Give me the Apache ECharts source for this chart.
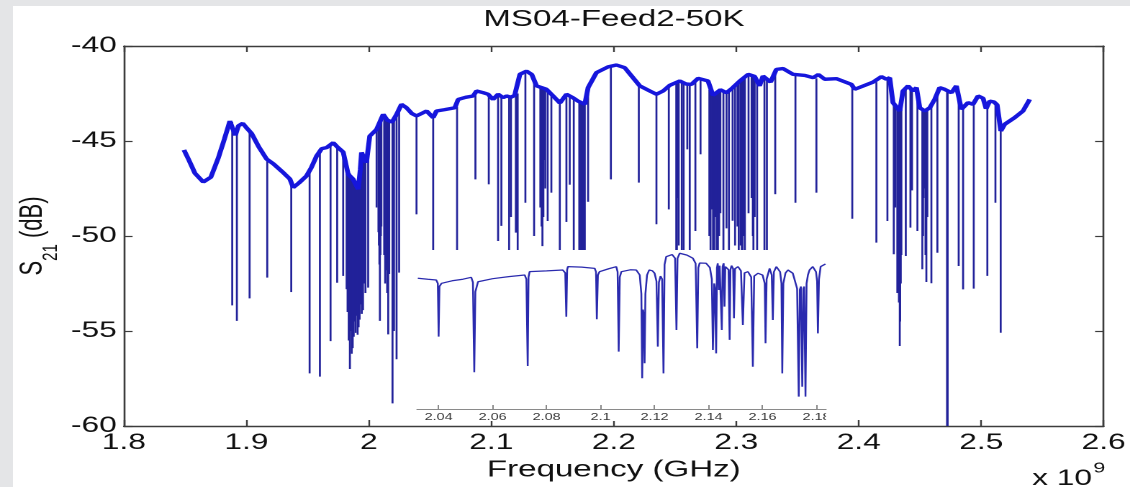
<!DOCTYPE html>
<html>
<head>
<meta charset="utf-8">
<title>MS04-Feed2-50K</title>
<script src="https://cdn.jsdelivr.net/npm/echarts@6/dist/echarts.min.js"></script>
<style>
  html, body { margin: 0; padding: 0; background: #e4e5e7; }
  #frame { position: relative; width: 1130px; height: 487px; overflow: hidden; background: #e4e5e7; }
  #sheet { position: absolute; left: 13px; top: 6px; right: 0; bottom: 0; background: #ffffff; }
  /* the exported figure is widened horizontally; the chart is laid out at its
     native width and stretched to the figure's proportions */
  #chart { position: absolute; left: 0; top: 0; width: 785px; height: 487px;
           transform: scaleX(1.4395); transform-origin: 0 0; }
</style>
</head>
<body>
<div id="frame"><div id="sheet"></div><div id="chart"></div></div>
<script>
// ---- data: S21 transmission of feedline 2 at 50 K (frequency in GHz, level in dB) ----

// smooth transmission level between resonances
const baseline = [
  [1.849, -45.47], [1.853, -46.0], [1.858, -46.7], [1.8648, -47.16], [1.871, -46.9],
  [1.877, -45.9], [1.882, -44.9], [1.8865, -43.95], [1.8885, -44.3], [1.891, -44.7],
  [1.8935, -44.2], [1.897, -44.07], [1.900, -44.3], [1.9042, -44.6], [1.910, -45.3],
  [1.9165, -45.95], [1.922, -46.2], [1.929, -46.6], [1.9355, -47.0], [1.9382, -47.45],
  [1.943, -47.2], [1.949, -46.84], [1.953, -46.4], [1.9573, -45.79], [1.9615, -45.4],
  [1.9654, -45.35], [1.9709, -45.09], [1.974, -45.3], [1.979, -45.58], [1.981, -45.5],
  [1.9831, -46.75], [1.987, -47.0], [1.9913, -47.54], [1.993, -46.5], [1.994, -45.6],
  [1.996, -45.9], [1.998, -46.14], [2.0007, -44.74], [2.0063, -44.39], [2.0117, -43.6],
  [2.015, -43.9], [2.019, -44.0], [2.0226, -43.6], [2.0266, -43.07], [2.0307, -43.25],
  [2.035, -43.55], [2.0389, -43.68], [2.043, -43.55], [2.0471, -43.42], [2.0525, -43.77],
  [2.0552, -43.42], [2.062, -43.35], [2.0702, -43.25], [2.0729, -42.81], [2.079, -42.7],
  [2.0851, -42.63], [2.0879, -42.37], [2.093, -42.45], [2.0974, -42.54], [2.1014, -42.81],
  [2.1055, -42.54], [2.1096, -42.72], [2.1124, -42.63], [2.116, -42.7], [2.119, -42.6],
  [2.1233, -41.49], [2.1287, -41.32], [2.133, -41.5], [2.1369, -42.1], [2.145, -42.28],
  [2.1504, -42.63], [2.156, -43.0], [2.1613, -42.54], [2.166, -42.7], [2.1708, -42.9],
  [2.1763, -43.07], [2.179, -42.19], [2.1858, -41.4], [2.1953, -41.1], [2.2021, -41.0],
  [2.2089, -41.14], [2.2157, -41.67], [2.2212, -42.1], [2.2294, -42.37], [2.2348, -42.54],
  [2.2402, -42.37], [2.2457, -42.07], [2.2539, -41.84], [2.259, -42.0], [2.2634, -42.02],
  [2.2688, -41.7], [2.2769, -41.84], [2.281, -42.6], [2.287, -42.3], [2.292, -42.46],
  [2.297, -42.2], [2.3029, -41.84], [2.3097, -41.49], [2.315, -41.6], [2.319, -42.1],
  [2.3218, -41.58], [2.328, -41.9], [2.3327, -41.23], [2.3382, -41.19], [2.3463, -41.49],
  [2.356, -41.55], [2.3627, -41.67], [2.367, -41.5], [2.3722, -41.75], [2.3817, -41.72],
  [2.394, -42.02], [2.3967, -42.28], [2.4117, -41.9], [2.4185, -41.61], [2.4226, -41.75],
  [2.4253, -41.67], [2.4279, -42.98], [2.4335, -43.42], [2.4361, -42.37], [2.4403, -42.1],
  [2.4443, -42.37], [2.4471, -42.19], [2.4498, -43.25], [2.4539, -43.42], [2.458, -43.25],
  [2.462, -42.81], [2.4661, -42.19], [2.4702, -42.28], [2.4757, -42.46], [2.4797, -42.1],
  [2.4838, -43.33], [2.4892, -42.98], [2.4933, -43.07], [2.4974, -42.63], [2.5015, -42.75],
  [2.504, -43.3], [2.5069, -42.9], [2.5105, -42.95], [2.513, -43.1], [2.516, -44.47],
  [2.5192, -44.12], [2.5273, -43.77], [2.5341, -43.42], [2.5396, -42.81]
];

// resonance dips: [frequency, level at the top of the dip, level at its bottom]
const dips = [
  [1.8884, -44.0, -53.65], [1.8922, -44.4, -54.47], [1.9026, -44.5, -53.28],
  [1.9170, -45.9, -52.19], [1.9366, -47.1, -52.95], [1.9516, -46.6, -57.23],
  [1.9600, -45.6, -57.40], [1.9687, -45.2, -55.53], [1.9741, -45.2, -52.46],
  [1.9790, -45.5, -52.10], [1.9818, -46.2, -52.80], [1.9826, -46.5, -54.00],
  [1.9835, -46.6, -55.50], [1.9845, -46.7, -57.00], [1.9852, -46.8, -55.00],
  [1.9860, -46.9, -56.20], [1.9868, -47.0, -55.90], [1.9876, -47.1, -55.30],
  [1.9884, -47.2, -54.50], [1.9892, -47.3, -55.10], [1.9900, -47.4, -54.20],
  [1.9908, -47.5, -55.20], [1.9916, -47.5, -54.80], [1.9924, -47.0, -54.40],
  [1.9932, -46.3, -53.60], [1.9942, -45.7, -54.10], [1.9952, -45.8, -53.90],
  [1.9962, -46.0, -52.50], [1.9972, -46.1, -53.00], [1.9994, -45.0, -52.72],
  [2.0063, -44.4, -48.50], [2.0078, -44.2, -49.80], [2.0082, -44.1, -50.50],
  [2.0086, -44.0, -51.50], [2.0090, -43.9, -54.47], [2.0094, -43.9, -51.00],
  [2.0098, -43.8, -50.00], [2.0102, -43.8, -49.50], [2.0125, -43.7, -51.00],
  [2.0133, -43.8, -52.50], [2.0137, -43.8, -51.40], [2.0141, -43.9, -51.80],
  [2.0145, -43.9, -51.60], [2.0149, -44.0, -53.00], [2.0153, -44.0, -51.50],
  [2.0158, -44.0, -55.18], [2.0162, -44.0, -51.40], [2.0166, -44.0, -52.00],
  [2.0193, -44.0, -58.81], [2.0205, -43.8, -55.00], [2.0226, -43.6, -56.49],
  [2.0247, -43.2, -51.93], [2.0389, -43.68, -48.86], [2.0525, -43.77, -55.00],
  [2.0720, -43.2, -55.00], [2.0870, -42.5, -47.02], [2.0979, -42.55, -47.28],
  [2.1055, -42.6, -50.26], [2.1082, -42.7, -49.47], [2.1145, -42.6, -54.00],
  [2.1160, -42.6, -49.00], [2.1200, -42.6, -49.82], [2.1215, -42.5, -54.00],
  [2.1278, -41.3, -48.25], [2.1349, -41.8, -50.00], [2.1400, -42.2, -48.50],
  [2.1405, -42.2, -45.50], [2.1410, -42.2, -49.50], [2.1417, -42.3, -50.53],
  [2.1421, -42.3, -46.20], [2.1425, -42.3, -49.00], [2.1432, -42.3, -46.00],
  [2.1440, -42.3, -47.50], [2.1460, -42.4, -49.21], [2.1490, -42.5, -47.72],
  [2.1559, -42.8, -54.00], [2.1613, -42.6, -49.26], [2.1640, -42.6, -47.30],
  [2.1673, -42.8, -54.00], [2.1718, -42.9, -54.00], [2.1725, -42.9, -51.00],
  [2.1730, -43.0, -52.00], [2.1740, -43.0, -53.00], [2.1745, -43.0, -54.00],
  [2.1755, -43.0, -52.50], [2.1763, -43.07, -54.00], [2.1790, -42.5, -48.20],
  [2.1976, -41.1, -47.02], [2.2204, -42.1, -47.19], [2.2348, -42.5, -49.38],
  [2.2449, -42.1, -48.60], [2.2510, -41.9, -52.00], [2.2515, -41.9, -54.00],
  [2.2520, -41.9, -48.00], [2.2530, -41.9, -50.50], [2.2555, -41.9, -54.00],
  [2.2570, -42.0, -54.00], [2.2600, -42.0, -45.44], [2.2620, -42.0, -54.00],
  [2.2666, -41.8, -49.74], [2.2708, -41.7, -45.70], [2.2780, -42.3, -50.00],
  [2.2790, -42.5, -54.00], [2.2800, -42.5, -48.60], [2.2810, -42.6, -51.00],
  [2.2820, -42.6, -54.00], [2.2830, -42.5, -49.00], [2.2840, -42.4, -54.00],
  [2.2850, -42.4, -52.00], [2.2860, -42.3, -50.00], [2.2870, -42.3, -48.80],
  [2.2895, -42.4, -54.00], [2.2920, -42.4, -49.60], [2.2940, -42.3, -54.00],
  [2.2970, -42.1, -49.20], [2.2990, -42.0, -50.50], [2.3010, -41.9, -49.50],
  [2.3020, -41.9, -52.00], [2.3035, -41.8, -50.50], [2.3045, -41.7, -51.00],
  [2.3050, -41.7, -54.00], [2.3060, -41.7, -50.00], [2.3070, -41.6, -54.00],
  [2.3100, -41.5, -48.80], [2.3125, -41.5, -48.00], [2.3135, -41.5, -50.00],
  [2.3140, -41.6, -54.00], [2.3150, -41.6, -49.00], [2.3170, -41.8, -54.00],
  [2.3230, -41.6, -52.00], [2.3250, -41.7, -53.00], [2.3318, -41.3, -47.80],
  [2.3483, -41.5, -48.25], [2.3654, -41.7, -47.72], [2.3947, -42.1, -49.09],
  [2.4144, -41.9, -50.35], [2.4234, -41.7, -49.21], [2.4286, -42.9, -50.96],
  [2.4300, -43.1, -48.50], [2.4315, -43.2, -53.00], [2.4320, -43.3, -52.00],
  [2.4328, -43.4, -53.50], [2.4335, -43.4, -55.79], [2.4338, -43.4, -54.50],
  [2.4343, -43.3, -52.50], [2.4348, -43.2, -51.00], [2.4384, -42.3, -51.05],
  [2.4422, -42.2, -49.56], [2.4435, -42.3, -47.60], [2.4479, -42.2, -49.74],
  [2.4519, -43.3, -51.75], [2.4525, -43.3, -50.00], [2.4530, -43.4, -48.00],
  [2.4540, -43.4, -47.50], [2.4545, -43.4, -51.00], [2.4552, -43.4, -52.42],
  [2.4560, -43.3, -49.00], [2.4593, -43.2, -52.49], [2.4642, -42.5, -50.88],
  [2.4721, -42.3, -60.00], [2.4726, -42.3, -60.00], [2.4816, -42.8, -51.58],
  [2.4852, -43.3, -52.81], [2.4939, -43.0, -52.77], [2.5050, -43.3, -52.10],
  [2.5116, -42.95, -48.25], [2.5159, -44.0, -55.09]
];

// detailed sweep of 2.03 - 2.18 GHz shown in the inset
const insetTrace = [
  [2.0323, -43.51], [2.0360, -43.6], [2.0391, -43.67], [2.0397, -44.0], [2.0400, -49.09],
  [2.0403, -44.3], [2.0411, -43.99], [2.0450, -43.75], [2.0490, -43.6], [2.0521, -43.42],
  [2.0527, -43.9], [2.0532, -52.49], [2.0536, -44.8], [2.0546, -43.84], [2.0600, -43.55],
  [2.0660, -43.35], [2.0719, -43.2], [2.0725, -43.6], [2.0730, -51.89], [2.0733, -43.4],
  [2.0737, -42.88], [2.0800, -42.8], [2.0860, -42.72], [2.0869, -43.0], [2.0873, -47.18],
  [2.0876, -42.7], [2.0879, -42.4], [2.0930, -42.45], [2.0978, -42.56], [2.0983, -42.9],
  [2.0986, -47.43], [2.0990, -43.2], [2.0996, -42.88], [2.1030, -42.6], [2.1058, -42.4],
  [2.1063, -42.9], [2.1067, -50.52], [2.1071, -43.4], [2.1077, -42.88], [2.1110, -42.7],
  [2.1132, -42.72], [2.1145, -43.2], [2.1151, -45.0], [2.1154, -53.06], [2.1157, -46.5],
  [2.1160, -47.0], [2.1163, -51.63], [2.1166, -45.0], [2.1172, -43.2], [2.1180, -42.72],
  [2.1192, -42.8], [2.1200, -43.03], [2.1207, -43.8], [2.1212, -50.04], [2.1216, -43.9],
  [2.1222, -43.3], [2.1228, -43.6], [2.1233, -52.59], [2.1237, -42.2], [2.1243, -41.45],
  [2.1265, -41.25], [2.1276, -41.6], [2.1281, -48.45], [2.1285, -41.6], [2.1293, -41.12],
  [2.1320, -41.3], [2.1342, -41.6], [2.1352, -42.1], [2.1358, -50.2], [2.1362, -42.5],
  [2.1367, -42.05], [2.1391, -42.08], [2.1405, -42.5], [2.1412, -43.6], [2.1416, -50.36],
  [2.1421, -44.0], [2.1424, -44.5], [2.1428, -50.68], [2.1431, -42.5], [2.1434, -42.08],
  [2.1438, -44.63], [2.1441, -42.3], [2.1446, -42.4], [2.1449, -48.45], [2.1452, -42.4],
  [2.1456, -42.08], [2.1459, -46.22], [2.1462, -42.4], [2.1467, -42.24], [2.1474, -42.7],
  [2.1478, -49.4], [2.1481, -42.7], [2.1485, -42.3], [2.1491, -42.6], [2.1494, -47.33],
  [2.1498, -42.6], [2.1509, -42.4], [2.1520, -42.8], [2.1527, -47.97], [2.1533, -43.0],
  [2.1546, -42.88], [2.1558, -43.4], [2.1564, -51.96], [2.1569, -43.3], [2.1583, -43.03],
  [2.1600, -43.2], [2.1608, -44.0], [2.1611, -49.72], [2.1615, -43.6], [2.1626, -42.56],
  [2.1634, -43.2], [2.1638, -47.5], [2.1642, -42.9], [2.1651, -42.4], [2.1665, -42.9],
  [2.1670, -44.0], [2.1673, -52.59], [2.1677, -44.0], [2.1685, -43.0], [2.1694, -42.72],
  [2.1712, -43.03], [2.1728, -44.5], [2.1734, -54.82], [2.1738, -44.6], [2.1742, -44.3],
  [2.1747, -53.87], [2.1751, -44.5], [2.1754, -44.3], [2.1759, -54.82], [2.1763, -44.0],
  [2.1768, -43.2], [2.1774, -42.72], [2.1786, -42.4], [2.1798, -42.9], [2.1802, -43.8],
  [2.1805, -48.77], [2.1809, -43.6], [2.1815, -42.4], [2.1833, -42.15]
];

// tick values
const freqTicks = [1.8, 1.9, 2.0, 2.1, 2.2, 2.3, 2.4, 2.5, 2.6];
const levelTicks = [-60, -55, -50, -45, -40];
const insetTicks = [2.04, 2.06, 2.08, 2.10, 2.12, 2.14, 2.16, 2.18];

// ---- chart ----
const FONT = '"Liberation Sans", Arial, Helvetica, sans-serif';
const AXIS = '#3c3c3c';
const TEXT = '#111111';
const TRACE = '#1616dc';
const DIP = '#22229a';
const fmt = v => String(+Number(v).toFixed(2));

const chart = echarts.init(document.getElementById('chart'), null, { renderer: 'canvas', devicePixelRatio: 2 });

const frameAxisX = (pos, labels) => ({
  gridIndex: 0, type: 'value', position: pos,
  min: freqTicks[0], max: freqTicks[freqTicks.length - 1], interval: 0.1,
  axisLine: { show: true, onZero: false, lineStyle: { color: AXIS, width: 1.4 } },
  axisTick: { show: true, inside: true, length: 6, lineStyle: { color: AXIS, width: 1.2 } },
  axisLabel: { show: labels, margin: 6, fontSize: 22, fontFamily: FONT, color: TEXT, formatter: fmt },
  splitLine: { show: false }
});
const frameAxisY = (pos, labels) => ({
  gridIndex: 0, type: 'value', position: pos,
  min: levelTicks[0], max: levelTicks[levelTicks.length - 1], interval: 5,
  axisLine: { show: true, onZero: false, lineStyle: { color: AXIS, width: 1.3 } },
  axisTick: { show: true, inside: true, length: 6, lineStyle: { color: AXIS, width: 1.2 } },
  axisLabel: { show: labels, margin: 5, fontSize: 22, fontFamily: FONT, color: TEXT },
  splitLine: { show: false }
});

const bottomAxis = frameAxisX('bottom', true);
bottomAxis.name = 'Frequency (GHz)';
bottomAxis.nameLocation = 'middle';
bottomAxis.nameGap = 28;
bottomAxis.nameTextStyle = { fontSize: 23, fontFamily: FONT, color: TEXT };

const option = {
  animation: false,
  title: {
    text: 'MS04-Feed2-50K', left: 426.5, top: 8, textAlign: 'center', padding: 0,
    textStyle: { fontSize: 23, fontWeight: 'normal', fontFamily: FONT, color: TEXT }
  },
  grid: [
    { left: 86.1, right: 18.1, top: 46, bottom: 61 },
    { left: 289.7, top: 252, width: 284.1, height: 157 }
  ],
  xAxis: [
    bottomAxis,
    frameAxisX('top', false),
    {
      gridIndex: 1, type: 'value', position: 'bottom', min: 2.032, max: 2.1835, z: 30,
      axisLine: { show: true, onZero: false, lineStyle: { color: '#8a8a8a', width: 1 } },
      axisTick: { show: true, inside: true, length: 4, customValues: insetTicks, lineStyle: { color: '#8a8a8a', width: 1 } },
      axisLabel: { show: true, customValues: insetTicks, margin: 3, fontSize: 10, fontFamily: FONT, color: '#3a3a3a', formatter: fmt },
      splitLine: { show: false }
    }
  ],
  yAxis: [
    frameAxisY('left', true),
    frameAxisY('right', false),
    { gridIndex: 1, type: 'value', min: -56, max: -41, show: false, splitLine: { show: false } }
  ],
  series: [
    {
      // each resonance drawn as a vertical drop from the transmission level
      type: 'custom', xAxisIndex: 0, yAxisIndex: 0, z: 2, clip: true,
      data: dips, encode: { x: 0, y: [1, 2] },
      renderItem: (params, api) => {
        const a = api.coord([api.value(0), api.value(1)]);
        const b = api.coord([api.value(0), api.value(2)]);
        return { type: 'line', shape: { x1: a[0], y1: a[1], x2: b[0], y2: b[1] },
                 style: { stroke: DIP, lineWidth: 1.35 } };
      }
    },
    {
      type: 'line', xAxisIndex: 0, yAxisIndex: 0, z: 3, data: baseline,
      symbol: 'none', lineStyle: { color: TRACE, width: 3.4 }
    },
    {
      type: 'line', xAxisIndex: 2, yAxisIndex: 2, z: 30, data: insetTrace,
      symbol: 'none', lineStyle: { color: '#2a2aae', width: 1.25 }
    }
  ],
  graphic: [
    // white backing of the inset panel
    { type: 'rect', z: 10, silent: true, shape: { x: 289.7, y: 250, width: 284.1, height: 171 }, style: { fill: '#ffffff' } },
    // the inset panel ends at its right edge, trimming its last label
    { type: 'rect', z: 40, silent: true, shape: { x: 573.8, y: 410.5, width: 10, height: 12 }, style: { fill: '#ffffff' } },
    {
      type: 'text', x: 22.9, y: 236, rotation: Math.PI / 2, z: 40,
      style: {
        text: '{m|S}{s|21}{m| (dB)}', align: 'center', verticalAlign: 'middle',
        rich: {
          m: { fontSize: 22, fontFamily: FONT, fill: TEXT, lineHeight: 40, verticalAlign: 'middle' },
          s: { fontSize: 15, fontFamily: FONT, fill: TEXT, lineHeight: 17, verticalAlign: 'bottom' }
        }
      }
    },
    { type: 'text', x: 717, y: 468, z: 40, style: { text: 'x 10', fontSize: 22, fontFamily: FONT, fill: TEXT, verticalAlign: 'top' } },
    { type: 'text', x: 759.5, y: 461, z: 40, style: { text: '9', fontSize: 15, fontFamily: FONT, fill: TEXT, verticalAlign: 'top' } }
  ]
};

chart.setOption(option);
</script>
</body>
</html>
